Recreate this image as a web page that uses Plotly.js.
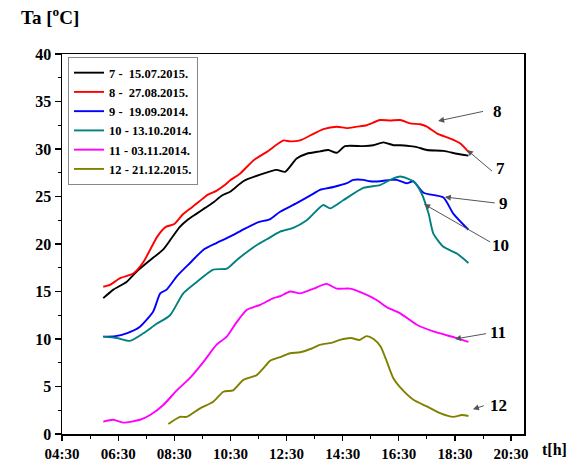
<!DOCTYPE html>
<html><head><meta charset="utf-8">
<script src="https://cdn.plot.ly/plotly-3.0.1.min.js"></script>
<style>html,body{margin:0;padding:0;background:#fff}#chart{width:580px;height:460px}</style>
</head><body><div id="chart"></div>
<script>
// time in decimal hours, temperature in °C
const t7 = [5.97,6.33,6.8,7.16,7.64,8.1,8.4,8.7,9.0,9.3,9.6,9.9,10.2,10.49,10.96,11.56,12.15,12.45,12.86,13.22,13.69,13.99,14.29,14.58,15.24,15.59,15.95,16.31,16.55,16.9,17.14,17.5,18.09,18.57,18.98];
const y7 = [14.3,15.2,16.0,17.1,18.3,19.4,20.6,21.8,22.6,23.2,23.8,24.4,25.1,25.5,26.6,27.3,27.8,27.6,29.0,29.5,29.75,29.9,29.6,30.3,30.3,30.4,30.7,30.4,30.4,30.3,30.2,29.9,29.8,29.5,29.3];
const t8 = [5.97,6.21,6.57,7.04,7.4,7.64,7.9,8.2,8.5,8.8,9.1,9.4,9.7,10.0,10.3,10.49,10.84,11.32,11.8,12.39,12.63,12.98,13.46,13.81,14.29,14.65,15.0,15.36,15.83,16.19,16.55,16.9,17.26,17.5,17.85,18.33,18.68,18.98];
const y8 = [15.5,15.7,16.4,16.9,18.1,19.4,20.8,21.8,22.1,23.1,23.8,24.5,25.2,25.6,26.2,26.7,27.4,28.8,29.7,30.9,30.8,30.9,31.6,32.1,32.35,32.2,32.35,32.5,33.05,33.0,33.05,32.7,32.6,32.35,31.65,31.1,30.6,29.7];
const t9 = [5.97,6.4,6.8,7.28,7.75,8.0,8.23,8.59,9.06,9.54,10.0,10.5,11.0,11.5,11.9,12.27,12.86,13.46,13.69,14.17,14.65,14.88,15.24,15.47,15.83,16.19,16.43,16.78,17.02,17.38,18.09,18.44,18.98];
const y9 = [10.25,10.3,10.6,11.3,12.9,14.8,15.2,16.6,18.0,19.4,20.1,20.8,21.6,22.3,22.6,23.4,24.3,25.3,25.7,26.0,26.4,26.75,26.75,26.6,26.6,26.75,26.75,26.4,26.6,25.4,24.9,23.2,21.5];
const t10 = [5.97,6.45,6.92,7.4,7.87,8.35,8.82,9.3,9.89,10.37,10.72,11.2,11.5,11.8,12.27,12.74,13.22,13.81,14.05,14.52,15.24,15.83,16.19,16.55,17.02,17.3,17.56,17.73,18.09,18.57,18.98];
const y10 = [10.25,10.1,9.8,10.6,11.6,12.5,14.8,16.0,17.3,17.4,18.3,19.4,20.0,20.5,21.3,21.7,22.5,24.1,23.75,24.6,25.9,26.2,26.75,27.1,26.6,25.4,23.2,21.1,19.7,19.0,18.0];
const t11 = [5.97,6.33,6.68,7.28,7.64,8.11,8.59,9.06,9.54,10.01,10.37,10.73,11.08,11.56,12.03,12.27,12.63,12.98,13.46,13.93,14.29,14.76,15.24,15.71,16.1,16.55,17.14,17.73,18.5,18.98];
const y11 = [1.3,1.5,1.2,1.5,2.0,3.05,4.6,5.9,7.6,9.4,10.25,11.8,13.05,13.6,14.3,14.5,15.0,14.8,15.3,15.8,15.3,15.3,14.8,14.1,13.3,12.7,11.5,10.8,10.15,9.7];
const t12 = [8.29,8.7,8.94,9.42,9.89,10.25,10.6,10.96,11.44,11.67,11.91,12.27,12.63,12.98,13.4,13.7,14.1,14.4,14.8,15.1,15.35,15.6,15.85,16.05,16.3,16.55,17.02,17.5,17.97,18.44,18.74,18.98];
const y12 = [1.05,1.8,1.8,2.7,3.4,4.45,4.6,5.7,6.2,6.9,7.7,8.1,8.5,8.6,9.0,9.4,9.6,9.9,10.1,9.9,10.3,10.0,9.2,7.8,5.9,4.9,3.6,2.9,2.2,1.8,2.0,1.9];

const seriesNames = ['7 -  15.07.2015.','8 -  27.08.2015.','9 -  19.09.2014.','10 - 13.10.2014.','11 - 03.11.2014.','12 - 21.12.2015.'];
const seriesColors = ['#000000','#ff0000','#0000ff','#008080','#ff00ff','#808000'];
const seriesT = [t7,t8,t9,t10,t11,t12];
const seriesY = [y7,y8,y9,y10,y11,y12];

const xTickVals = [4.5,6.5,8.5,10.5,12.5,14.5,16.5,18.5,20.5];
const xTickText = ['04:30','06:30','08:30','10:30','12:30','14:30','16:30','18:30','20:30'];
const xMinorVals = [5.5,7.5,9.5,11.5,13.5,15.5,17.5,19.5];
const yTickVals = [0,5,10,15,20,25,30,35,40];
const yTickText = ['0','5','10','15','20','25','30','35','40'];

// curve labels: [label, head t, head T, tail t, tail T, text t, text T]
const curveLabels = [
  ['8', 17.9, 32.95, 19.57, 34.0, 20.02, 33.9],
  ['7', 18.93, 29.9, 19.89, 27.5, 20.12, 27.9],
  ['9', 18.14, 24.95, 19.99, 24.3, 20.22, 24.3],
  ['10', 17.4, 24.2, 19.82, 20.1, 20.12, 19.8],
  ['11', 18.5, 10.0, 19.68, 10.6, 20.05, 10.7],
  ['12', 19.14, 2.6, 19.6, 3.05, 20.05, 2.95]
];

const F = 'Liberation Serif, Times New Roman, serif';
const bold = s => '<b>'+s+'</b>';
const traces = seriesNames.map((n,i)=>({
  x: seriesT[i], y: seriesY[i], name: bold(n), type:'scatter', mode:'lines',
  line:{color:seriesColors[i], width:1.9, shape:'spline', smoothing:0.6}
}));

const ann = [];
curveLabels.forEach(c=>{
  ann.push({x:c[1], y:c[2], ax:c[3], ay:c[4], xref:'x', yref:'y', axref:'x', ayref:'y',
    text:' ', showarrow:true, arrowhead:2, arrowsize:1.2, arrowwidth:1, arrowcolor:'#555',
    font:{size:2}});
  ann.push({x:c[5], y:c[6], xref:'x', yref:'y', text:bold(c[0]), showarrow:false,
    font:{family:F, size:17, color:'#000'}});
});
ann.push({xref:'paper', yref:'paper', x:-0.094, y:1.1, xanchor:'left', yanchor:'middle',
  text:'<b>Ta [<sup>o</sup>C]</b>', showarrow:false, font:{family:F, size:19, color:'#000'}});
ann.push({xref:'paper', yref:'paper', x:1.035, y:-0.04, xanchor:'left', yanchor:'middle',
  text:'<b>t[h]</b>', showarrow:false, font:{family:F, size:16, color:'#000'}});

const layout = {
  width:580, height:460,
  margin:{l:62, r:56, t:54, b:26},
  paper_bgcolor:'#fff', plot_bgcolor:'#fff',
  showlegend:true,
  legend:{x:0.013, y:0.992, xanchor:'left', yanchor:'top', bgcolor:'#fff',
    bordercolor:'#888', borderwidth:1, font:{family:F, size:12.5, color:'#000'},
    tracegroupgap:0, itemwidth:30},
  xaxis:{range:[4.5,20.96], tickmode:'array', tickvals:xTickVals, ticktext:xTickText.map(bold),
    ticks:'outside', ticklen:5, tickwidth:1.2, tickcolor:'#000',
    minor:{tickmode:'array', tickvals:xMinorVals, ticks:'outside', ticklen:3, tickwidth:1, tickcolor:'#000'},
    showgrid:false, zeroline:false, showline:true, mirror:true, linecolor:'#000', linewidth:1.5,
    tickfont:{family:F, size:15, color:'#000'}},
  yaxis:{range:[0,40], tickmode:'array', tickvals:yTickVals, ticktext:yTickText.map(bold),
    ticks:'outside', ticklen:6, tickwidth:1.2, tickcolor:'#000',
    minor:{dtick:2.5, ticks:'outside', ticklen:3, tickwidth:1, tickcolor:'#000'},
    showgrid:false, zeroline:false, showline:true, mirror:true, linecolor:'#000', linewidth:1.5,
    tickfont:{family:F, size:16, color:'#000'}},
  annotations: ann
};
Plotly.newPlot('chart', traces, layout, {displayModeBar:false, staticPlot:true});
</script></body></html>
